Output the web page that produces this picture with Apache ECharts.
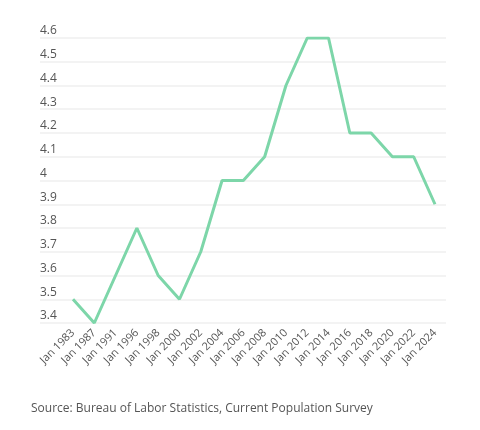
<!DOCTYPE html>
<html>
<head>
<meta charset="utf-8">
<script src="https://cdn.jsdelivr.net/npm/echarts@6/dist/echarts.min.js"></script>
<style>
html, body { margin: 0; padding: 0; background: #fff; }
#chart { width: 480px; height: 430px; }
</style>
</head>
<body>
<div id="chart"></div>
<script>
// data
var years = ['Jan 1983', 'Jan 1987', 'Jan 1991', 'Jan 1996', 'Jan 1998', 'Jan 2000',
    'Jan 2002', 'Jan 2004', 'Jan 2006', 'Jan 2008', 'Jan 2010', 'Jan 2012',
    'Jan 2014', 'Jan 2016', 'Jan 2018', 'Jan 2020', 'Jan 2022', 'Jan 2024'];
var tenure = [3.5, 3.4, 3.6, 3.8, 3.6, 3.5, 3.7, 4.0, 4.0, 4.1, 4.4, 4.6, 4.6, 4.2, 4.2, 4.1, 4.1, 3.9];
var yMin = 3.4, yMax = 4.6, yStep = 0.1;
var source = 'Source: Bureau of Labor Statistics, Current Population Survey';

var font = '"Open Sans", Lato, sans-serif';
var txt = '#555';

var chart = echarts.init(document.getElementById('chart'));

var opt = {
    animation: false,
    backgroundColor: '#fff',
    title: {
        text: source,
        left: 26,
        top: 398,
        textStyle: { fontFamily: font, fontSize: 12, fontWeight: 'normal', color: txt }
    },
    // grid 0 only carries the wide gridlines + labels, grid 1 the line itself
    grid: [
        { left: 40, right: 34, top: 38, bottom: 107 },
        { left: 73, right: 45, top: 38, bottom: 107 }
    ],
    xAxis: [
        { gridIndex: 0, type: 'category', data: years, show: false },
        {
            gridIndex: 1,
            type: 'category',
            data: years,
            boundaryGap: false,
            axisLine: { show: false },
            axisTick: { show: false },
            axisLabel: {
                interval: 0,
                rotate: 45,
                margin: 8,
                color: txt,
                fontFamily: font,
                fontSize: 11
            }
        }
    ],
    yAxis: [
        {
            gridIndex: 0,
            type: 'value',
            min: yMin,
            max: yMax,
            interval: yStep,
            axisLine: { show: false },
            axisTick: { show: false },
            splitLine: { lineStyle: { color: '#efefef', width: 1.5 } },
            axisLabel: {
                inside: true,
                margin: 0,
                verticalAlign: 'bottom',
                padding: [0, 0, 1, 0],
                color: txt,
                fontFamily: font,
                fontSize: 12
            }
        },
        {
            gridIndex: 1,
            type: 'value',
            min: yMin,
            max: yMax,
            interval: yStep,
            show: false
        }
    ],
    series: [{
        type: 'line',
        xAxisIndex: 1,
        yAxisIndex: 1,
        data: tenure,
        showSymbol: false,
        lineStyle: { color: '#7dd6a9', width: 3 },
        itemStyle: { color: '#7dd6a9' }
    }]
};
chart.setOption(opt);
</script>
</body>
</html>
